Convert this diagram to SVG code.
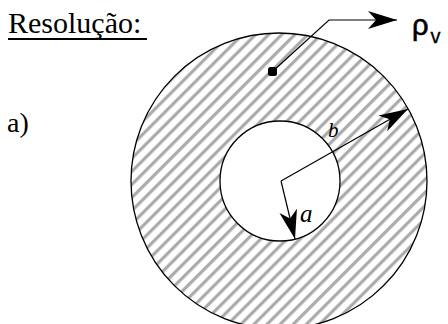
<svg xmlns="http://www.w3.org/2000/svg" width="448" height="324" viewBox="0 0 448 324">
<style>
.serif{font-family:"Liberation Serif","Times New Roman",serif;fill:#000}
.sans{font-family:"Liberation Sans",Arial,sans-serif;fill:#000}
.edge{fill:none;stroke:#000;stroke-width:1.3}
.conn{fill:none;stroke:#000;stroke-width:1.2}
</style>
<defs>
<pattern id="hatch" patternUnits="userSpaceOnUse" width="9.26" height="10" patternTransform="rotate(45)">
<line x1="1.48" y1="-1" x2="1.48" y2="11" stroke="#aaaaaa" stroke-width="3.2"/>
<line x1="10.74" y1="-1" x2="10.74" y2="11" stroke="#aaaaaa" stroke-width="3.2"/>
</pattern>
<marker id="head" viewBox="-29 -10 29 20" refX="0" refY="0" markerWidth="29" markerHeight="20" markerUnits="userSpaceOnUse" orient="auto">
<path d="M0,0 L-29,-9 L-21,0 L-29,9 Z" fill="#000"/>
</marker>
</defs>
<rect width="448" height="324" fill="#fff"/>
<g id="title">
<text class="serif" font-family="Liberation Serif, Times New Roman, serif" x="8" y="33" font-size="30">Resolução:</text>
<line x1="8" y1="39" x2="147" y2="39" stroke="#000" stroke-width="2"/>
</g>
<g id="label-a-item">
<text class="serif" font-family="Liberation Serif, Times New Roman, serif" x="7" y="132" font-size="28">a)</text>
</g>
<g id="sphere">
<path d="M131,181 a148,148 0 1,0 296,0 a148,148 0 1,0 -296,0 Z M220,181 a60,60 0 1,0 120,0 a60,60 0 1,0 -120,0 Z" fill="url(#hatch)" fill-rule="evenodd"/>
<circle class="edge" cx="279" cy="181" r="148"/>
<circle class="edge" cx="280" cy="181" r="60"/>
</g>
<g id="charge-point">
<rect x="268" y="67" width="9" height="9" rx="2.5" fill="#000"/>
</g>
<g id="rho-label">
<text class="sans" font-family="Liberation Sans, Arial, sans-serif" x="412" y="35" font-size="29" stroke="#000" stroke-width="0.6">ρ<tspan font-size="20" dx="2" dy="8" stroke-width="0.3">v</tspan></text>
</g>
<g id="label-b">
<text class="serif" font-family="Liberation Serif, Times New Roman, serif" x="328" y="137" font-size="21" font-style="italic">b</text>
</g>
<g id="label-a">
<text class="serif" font-family="Liberation Serif, Times New Roman, serif" x="300" y="222" font-size="25" font-style="italic">a</text>
</g>
<g id="connectors">
<polyline class="conn" points="273,71 329,20 397,20" marker-end="url(#head)"/>
<line class="conn" x1="281" y1="181" x2="408" y2="109" marker-end="url(#head)"/>
<line class="conn" x1="281" y1="181" x2="295" y2="239" marker-end="url(#head)"/>
</g>
</svg>
